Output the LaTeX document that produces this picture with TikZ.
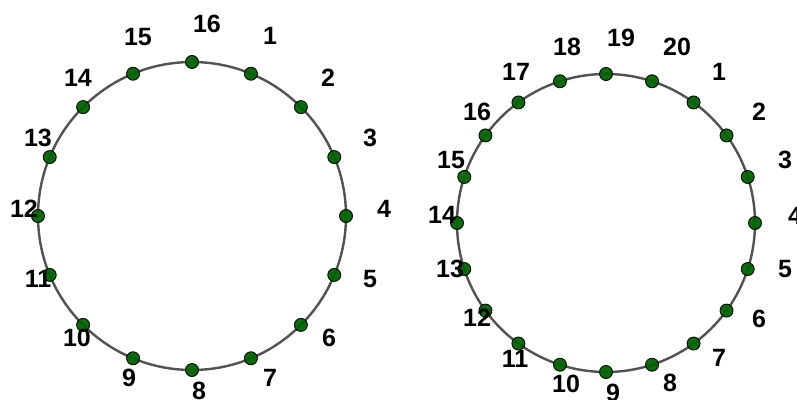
\documentclass[tikz,border=0pt]{standalone}
\usepackage{fontspec}
\setmainfont{Liberation Sans}
\usetikzlibrary{calc}
\begin{document}
\begin{tikzpicture}[x=1pt,y=-1pt,
  ring/.style={draw=black!68,line width=2.4pt},
  pt/.style={circle,draw=black,line width=0.9pt,fill=green!39!black,minimum size=13pt,inner sep=0pt,opacity=0.95},
  lbl/.style={font=\fontsize{25}{30}\selectfont\bfseries,inner sep=0pt,text height=18pt,text depth=0pt,anchor=center}]
\useasboundingbox[fill=white] (0,0) rectangle (797,399);
% left circle
\coordinate (cL) at (192,216);
\draw[ring] (cL) circle[radius=154];
\foreach \k in {1,...,16}{
  \pgfmathsetmacro{\ang}{90-(\k-16)*22.5}
  \node[pt] (L\k) at ($(cL)+(\ang:154 and -154)$) {};
}
\foreach \k/\x/\y in {1/270/35,2/328/77,3/370/137,4/384/208,5/370/278,6/329/337,7/270/377,8/199/390,9/129/377,10/77/337,11/38/278,12/24/208,13/38/137,14/78/77,15/138/36,16/207/23}{
  \node[lbl] (Ll\k) at (\x,\y) {\k};
}
% right circle
\coordinate (cR) at (606,223);
\draw[ring] (cR) circle[radius=149];
\foreach \k in {1,...,20}{
  \pgfmathsetmacro{\ang}{90-(\k-19)*18}
  \node[pt] (R\k) at ($(cR)+(\ang:149 and -149)$) {};
}
\foreach \k/\x/\y in {1/719/71,2/759/111,3/785/159,4/795/215,5/785/268,6/759/318,7/719/357,8/670/382,9/613/392,10/566/383,11/515/358,12/477/317,13/450/268,14/442/214,15/451/159,16/477/111,17/516/71,18/567/46,19/621/37,20/677/46}{
  \node[lbl] (Rl\k) at (\x,\y) {\k};
}
\end{tikzpicture}
\end{document}
